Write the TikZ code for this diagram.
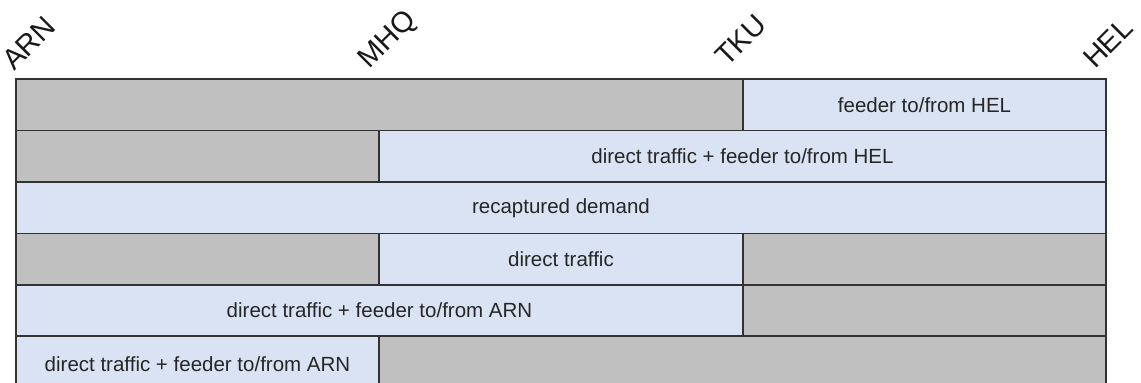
\documentclass[tikz,border=0pt]{standalone}
\usepackage{fontspec}
\setmainfont{Liberation Sans}
\definecolor{grayfill}{HTML}{C0C0C0}
\definecolor{bluefill}{HTML}{DAE3F3}
\definecolor{edge}{HTML}{333333}
\tikzset{
  cell/.style={draw=edge, line width=1.3pt},
  gcell/.style={cell, fill=grayfill},
  bcell/.style={cell, fill=bluefill},
  lbl/.style={font=\fontsize{20.5}{23}\selectfont, text=black!85},
  stn/.style={font=\fontsize{29}{32}\selectfont, rotate=45, anchor=base west, inner sep=0pt, text=black!90}
}
\begin{document}
\begin{tikzpicture}[x=1pt,y=-1pt]
\useasboundingbox (0,0) rectangle (1141,383);
\clip (0,0) rectangle (1141,383);
\def\xa{16}\def\xb{379}\def\xc{743}\def\xd{1106}
% row 1
\draw[gcell] (\xa,79) rectangle (\xc,130.5);
\draw[bcell] (\xc,79) rectangle node[lbl] (r1) {feeder to/from HEL} (\xd,130.5);
% row 2
\draw[gcell] (\xa,130.5) rectangle (\xb,182);
\draw[bcell] (\xb,130.5) rectangle node[lbl] (r2) {direct traffic + feeder to/from HEL} (\xd,182);
% row 3
\draw[bcell] (\xa,182) rectangle node[lbl] (r3) {recaptured demand} (\xd,233.5);
% row 4
\draw[gcell] (\xa,233.5) rectangle (\xb,285);
\draw[bcell] (\xb,233.5) rectangle node[lbl] (r4) {direct traffic} (\xc,285);
\draw[gcell] (\xc,233.5) rectangle (\xd,285);
% row 5
\draw[bcell] (\xa,285) rectangle node[lbl] (r5) {direct traffic + feeder to/from ARN} (\xc,336);
\draw[gcell] (\xc,285) rectangle (\xd,336);
% row 6
\draw[bcell] (\xa,336) rectangle node[lbl, yshift=-2pt] (r6) {direct traffic + feeder to/from ARN} (\xb,387.5);
\draw[gcell] (\xb,336) rectangle (\xd,387.5);
% station labels
\node[stn] (arn) at (14,72) {ARN};
\node[stn] (mhq) at (369,70) {MHQ};
\node[stn] (tku) at (727,68) {TKU};
\node[stn] (hel) at (1095,70) {HEL};
\end{tikzpicture}
\end{document}
